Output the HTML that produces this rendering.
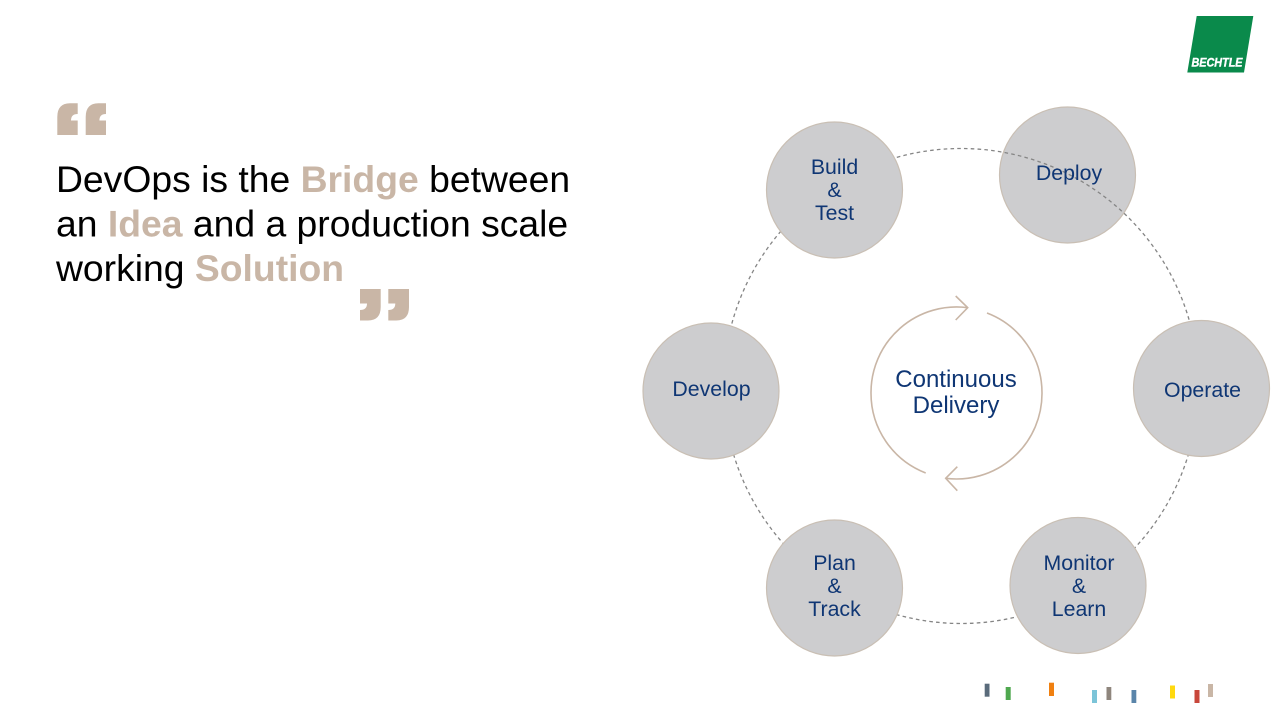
<!DOCTYPE html>
<html lang="en">
<head>
<meta charset="utf-8">
<title>DevOps</title>
<style>
html,body{margin:0;padding:0;background:#fff;width:1280px;height:720px;overflow:hidden}
svg{display:block}
text{font-family:"Liberation Sans",Arial,sans-serif}
.n{font-size:21.3px;fill:#0f3674;text-anchor:middle}
.c{font-size:24px;fill:#0f3674;text-anchor:middle}
.h{font-size:37.3px;fill:#000}
.b{font-weight:bold;fill:#c9b6a6}
.node{fill:#cdcdcf;stroke:#c9bfb4;stroke-width:1.2}
</style>
</head>
<body>
<svg width="1280" height="720" viewBox="0 0 1280 720" xmlns="http://www.w3.org/2000/svg">
<rect width="1280" height="720" fill="#fff"/>

<!-- logo -->
<polygon points="1196.7,16 1253.3,16 1244,72.5 1187.3,72.5" fill="#0a8a4b"/>
<text x="1217" y="66.5" font-size="12" font-weight="bold" font-style="italic" fill="#fff" stroke="#fff" stroke-width="0.4" text-anchor="middle" textLength="51" lengthAdjust="spacingAndGlyphs">BECHTLE</text>

<!-- quotes -->
<g fill="#c9b6a6">
<path d="M57.3,135V117Q57.3,103.3 70,103.3H77.7V114Q71,114 71,120.5H77.7V135Z"/>
<path d="M85.7,135V117Q85.7,103.3 98.4,103.3H106V114Q99.4,114 99.4,120.5H106V135Z"/>
<path d="M380.7,289V307Q380.7,320.5 368,320.5H360V310Q367,310 367,303.5H360V289Z"/>
<path d="M409,289V307Q409,320.5 396.3,320.5H388.3V310Q395.3,310 395.3,303.5H388.3V289Z"/>
</g>

<!-- headline -->
<text class="h" x="56" y="192">DevOps is the <tspan class="b">Bridge</tspan> between</text>
<text class="h" x="56" y="236.3">an <tspan class="b">Idea</tspan> and a production scale</text>
<text class="h" x="56" y="281">working <tspan class="b">Solution</tspan></text>

<!-- deploy node sits below the dashed ring -->
<circle class="node" cx="1067.5" cy="175" r="68"/>

<!-- dashed ring -->
<circle cx="961" cy="386" r="237.5" fill="none" stroke="#858585" stroke-width="1.3" stroke-dasharray="3.6 3.2"/>

<!-- nodes -->
<circle class="node" cx="834.5" cy="190" r="68"/>
<circle class="node" cx="1201.5" cy="388.5" r="68"/>
<circle class="node" cx="711" cy="391" r="68"/>
<circle class="node" cx="834.5" cy="588" r="68"/>
<circle class="node" cx="1078" cy="585.5" r="68"/>

<!-- node labels -->
<text class="n" x="834.5" y="174">Build</text>
<text class="n" x="834.5" y="197">&amp;</text>
<text class="n" x="834.5" y="220">Test</text>
<text class="n" x="1069" y="180">Deploy</text>
<text class="n" x="1202.5" y="397">Operate</text>
<text class="n" x="711.5" y="396">Develop</text>
<text class="n" x="834.5" y="570">Plan</text>
<text class="n" x="834.5" y="593">&amp;</text>
<text class="n" x="834.5" y="616">Track</text>
<text class="n" x="1079" y="570">Monitor</text>
<text class="n" x="1079" y="593">&amp;</text>
<text class="n" x="1079" y="616">Learn</text>

<!-- centre -->
<g fill="none" stroke="#c9b6a6" stroke-width="1.6">
<path d="M925.7,473 A85.5,85.5 0 0 1 871,393 A85.5,85.5 0 0 1 967.7,307.7"/>
<path d="M955.7,296 L967.7,307.7 L955.7,320"/>
<path d="M987,313 A85.5,85.5 0 0 1 1042,393 A85.5,85.5 0 0 1 945.7,478.3"/>
<path d="M957.3,466.7 L945.7,478.3 L957.3,490.7"/>
</g>
<text class="c" x="956" y="387">Continuous</text>
<text class="c" x="956" y="413">Delivery</text>

<!-- bars -->
<rect x="984.7" y="683.7" width="4.8" height="13" fill="#5a6b7b"/>
<rect x="1005.7" y="687" width="5" height="13" fill="#4fa84f"/>
<rect x="1049" y="682.7" width="5" height="13.3" fill="#f08010"/>
<rect x="1092" y="690" width="5" height="13" fill="#7cc4d8"/>
<rect x="1106.5" y="687" width="4.8" height="13" fill="#8f867d"/>
<rect x="1131.5" y="690" width="4.8" height="13" fill="#5a85aa"/>
<rect x="1170" y="685.5" width="5" height="13" fill="#ffd90f"/>
<rect x="1194.5" y="690" width="5" height="13" fill="#c8473b"/>
<rect x="1208" y="684" width="5" height="13" fill="#c9b6a6"/>
</svg>
</body>
</html>
